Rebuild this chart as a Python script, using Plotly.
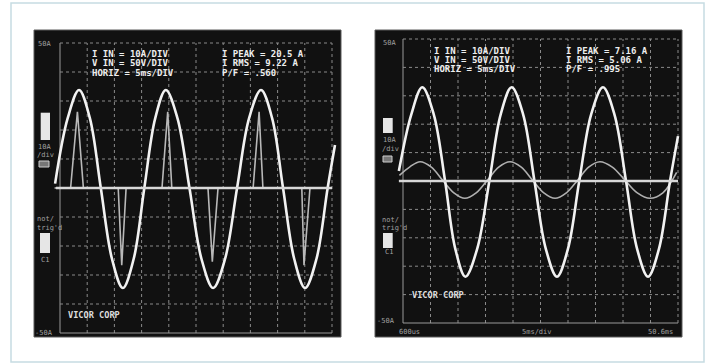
import plotly.graph_objects as go

# ---------------- data (grid divisions; x: 0..10 div, y: -5..5 div) ----------------
left_v_x = [-0.18, 0.28, 0.70, 1.10, 1.50, 1.91, 2.31, 2.71, 3.10, 3.50, 3.89, 4.32, 4.76,
            5.20, 5.63, 6.07, 6.51, 6.95, 7.39, 7.80, 8.20, 8.61, 9.01, 9.43, 9.84, 10.11]
left_v_y = [0.15, 2.40, 3.38, 2.40, 0.00, -2.44, -3.45, -2.44, 0.00, 2.40, 3.38, 2.40, 0.00,
            -2.44, -3.45, -2.44, 0.00, 2.40, 3.38, 2.40, 0.00, -2.44, -3.45, -2.44, 0.00, 1.48]

left_i_x = [-0.20, 0.39, 0.64, 0.86, 2.14, 2.27, 2.43, 3.75, 3.96, 4.11, 5.44, 5.60, 5.81,
            7.10, 7.32, 7.46, 8.89, 8.97, 9.19, 10.0]
left_i_y = [0.0, 0.0, 2.63, 0.0, 0.0, -2.66, 0.0, 0.0, 2.63, 0.0, 0.0, -2.54, 0.0,
            0.0, 2.63, 0.0, 0.0, -2.66, 0.0, 0.0]

right_v_x = [-0.15, 0.30, 0.70, 1.12, 1.53, 1.90, 2.27, 2.70, 3.14, 3.55, 3.95, 4.37, 4.78,
             5.19, 5.60, 6.00, 6.41, 6.84, 7.27, 7.69, 8.11, 8.51, 8.91, 9.31, 9.71, 10.0]
right_v_y = [0.35, 2.34, 3.30, 2.34, 0.00, -2.38, -3.37, -2.38, 0.00, 2.34, 3.30, 2.34, 0.00,
             -2.38, -3.37, -2.38, 0.00, 2.34, 3.30, 2.34, 0.00, -2.38, -3.37, -2.38, 0.00, 1.58]

right_i_x = [-0.13, 0.25, 0.62, 1.03, 1.44, 1.85, 2.25, 2.66, 3.07, 3.48, 3.89, 4.30, 4.71,
             5.12, 5.53, 5.94, 6.35, 6.75, 7.16, 7.61, 8.07, 8.52, 8.98, 9.45, 9.95]
right_i_y = [0.20, 0.50, 0.68, 0.49, 0.03, -0.42, -0.61, -0.42, 0.03, 0.49, 0.68, 0.49, 0.03,
             -0.42, -0.61, -0.42, 0.03, 0.49, 0.68, 0.49, 0.03, -0.42, -0.61, -0.42, 0.30]

readout_settings = ["I IN = 10A/DIV", "V IN = 50V/DIV", "HORIZ = 5ms/DIV"]
left_readout = ["I PEAK = 20.5 A", "I RMS = 9.22 A", "P/F = .560"]
right_readout = ["I PEAK = 7.16 A", "I RMS = 5.06 A", "P/F = .995"]
brand = "VICOR CORP"
scale_top, scale_bottom = "50A", "-50A"
chan_labels = ["10A", "/div"]
trig_labels = ["not/", "trig'd", "C1"]
right_time_labels = ["600us", "5ms/div", "50.6ms"]
grid_divs = list(range(0, 11))
grid_rows = list(range(-5, 6))

# ---------------- layout helpers ----------------
W, H = 707, 364
def px(x):
    return x / W
def py(y):
    return 1 - y / H

fig = go.Figure()

# traces
fig.add_trace(go.Scatter(x=left_i_x, y=left_i_y, mode="lines", xaxis="x", yaxis="y",
                         line=dict(color="#b9b9b9", width=1.6), hoverinfo="skip"))
fig.add_trace(go.Scatter(x=left_v_x, y=left_v_y, mode="lines", xaxis="x", yaxis="y",
                         line=dict(color="#f2f2f2", width=2.6, shape="spline"), hoverinfo="skip"))
fig.add_trace(go.Scatter(x=right_i_x, y=right_i_y, mode="lines", xaxis="x2", yaxis="y2",
                         line=dict(color="#b0b0b0", width=1.6, shape="spline"), hoverinfo="skip"))
fig.add_trace(go.Scatter(x=right_v_x, y=right_v_y, mode="lines", xaxis="x2", yaxis="y2",
                         line=dict(color="#f2f2f2", width=2.6, shape="spline"), hoverinfo="skip"))

shapes = []
# outer frame
shapes.append(dict(type="rect", xref="paper", yref="paper", x0=px(11), x1=px(704), y0=py(362), y1=py(3),
                   line=dict(color="#c6dce2", width=1.5), fillcolor="white", layer="below"))
# scope screens
for (x0, x1) in [(34, 341), (375, 682)]:
    shapes.append(dict(type="rect", xref="paper", yref="paper", x0=px(x0), x1=px(x1), y0=py(337), y1=py(30),
                       line=dict(color="#5a5a5a", width=1), fillcolor="#111111", layer="below"))

# grids
for xa, ya in [("x", "y"), ("x2", "y2")]:
    for gx in grid_divs:
        edge = gx == 0
        shapes.append(dict(type="line", xref=xa, yref=ya, x0=gx, x1=gx, y0=-5, y1=5, layer="below",
                           line=dict(color="#9a9a9a" if edge else "#8a8a8a", width=1,
                                     dash="solid" if edge else "dot")))
    for gy in grid_rows:
        edge = gy == -5
        shapes.append(dict(type="line", xref=xa, yref=ya, x0=0, x1=10, y0=gy, y1=gy, layer="below",
                           line=dict(color="#9a9a9a" if edge else "#8a8a8a", width=1,
                                     dash="solid" if edge else "dot")))
    # zero reference line
    shapes.append(dict(type="line", xref=xa, yref=ya, x0=-0.15, x1=10, y0=0, y1=0,
                       line=dict(color="#d8d8d8", width=2.6)))

# side indicator boxes
for (x0, x1, y0, y1) in [(40.7, 50, 112.7, 140), (40, 50, 233, 253),
                         (383, 392.7, 118, 133), (383, 392.7, 233, 248)]:
    shapes.append(dict(type="rect", xref="paper", yref="paper", x0=px(x0), x1=px(x1), y0=py(y1), y1=py(y0),
                       line=dict(width=0), fillcolor="#e6e6e6"))
for (x0, x1, y0, y1) in [(39, 49, 161, 167), (383, 392, 156, 162)]:
    shapes.append(dict(type="rect", xref="paper", yref="paper", x0=px(x0), x1=px(x1), y0=py(y1), y1=py(y0),
                       line=dict(color="#cfcfcf", width=1), fillcolor="#777777"))

annotations = []
def txt(x, y, s, size=9, color="#eeeeee", bold=True, anchor="left"):
    annotations.append(dict(xref="paper", yref="paper", x=px(x), y=py(y), text=("<b>%s</b>" % s) if bold else s,
                            showarrow=False, xanchor=anchor, yanchor="middle",
                            font=dict(family="DejaVu Sans Mono", size=size, color=color)))

# left scope readouts
for i, s in enumerate(readout_settings):
    txt(90, 54 + 9.3 * i, s)
for i, s in enumerate(left_readout):
    txt(220, 54 + 9.3 * i, s)
# right scope readouts
for i, s in enumerate(readout_settings):
    txt(432, 51 + 9.0 * i, s)
for i, s in enumerate(right_readout):
    txt(564, 51 + 9.0 * i, s)
# brand
txt(66, 315, brand, size=8.6, color="#dddddd")
txt(410, 295, brand, size=8.6, color="#dddddd")

# side labels
grey = "#a0a0a0"
txt(36, 44, scale_top, size=7, color=grey, bold=False)
txt(33, 333, scale_bottom, size=7, color=grey, bold=False)
txt(381, 43, scale_top, size=7, color=grey, bold=False)
txt(375, 321, scale_bottom, size=7, color=grey, bold=False)
txt(36, 146.7, chan_labels[0], size=7, color=grey, bold=False)
txt(35, 155, chan_labels[1], size=7, color=grey, bold=False)
txt(381, 140, chan_labels[0], size=7, color=grey, bold=False)
txt(380, 149, chan_labels[1], size=7, color=grey, bold=False)
txt(35, 219.3, trig_labels[0], size=7, color=grey, bold=False)
txt(35, 227.7, trig_labels[1], size=7, color=grey, bold=False)
txt(39, 260, trig_labels[2], size=7, color=grey, bold=False)
txt(380, 220, trig_labels[0], size=7, color=grey, bold=False)
txt(380, 227.7, trig_labels[1], size=7, color=grey, bold=False)
txt(383, 252, trig_labels[2], size=7, color=grey, bold=False)
# right bottom time labels
txt(397, 332, right_time_labels[0], size=7, color=grey, bold=False)
txt(537, 332, right_time_labels[1], size=7, color=grey, bold=False, anchor="center")
txt(675, 332, right_time_labels[2], size=7, color=grey, bold=False, anchor="right")

ax = dict(visible=False, showgrid=False, zeroline=False, fixedrange=True)
fig.update_layout(
    width=W, height=H, margin=dict(l=0, r=0, t=0, b=0),
    paper_bgcolor="white", plot_bgcolor="rgba(0,0,0,0)", showlegend=False,
    xaxis=dict(ax, domain=[px(34), px(341)], range=[(34 - 60) / 27.2, (341 - 60) / 27.2]),
    yaxis=dict(ax, domain=[py(337), py(30)], range=[(188 - 337) / 29.0, (188 - 30) / 29.0]),
    xaxis2=dict(ax, domain=[px(375), px(682)], range=[(375 - 403) / 27.5, (682 - 403) / 27.5]),
    yaxis2=dict(ax, domain=[py(337), py(30)], range=[(181 - 337) / 28.4, (181 - 30) / 28.4]),
    shapes=shapes, annotations=annotations,
)

fig.write_html("out.html", config={"displayModeBar": False},
               post_script="document.body.style.margin='0';document.body.style.overflow='hidden';")
